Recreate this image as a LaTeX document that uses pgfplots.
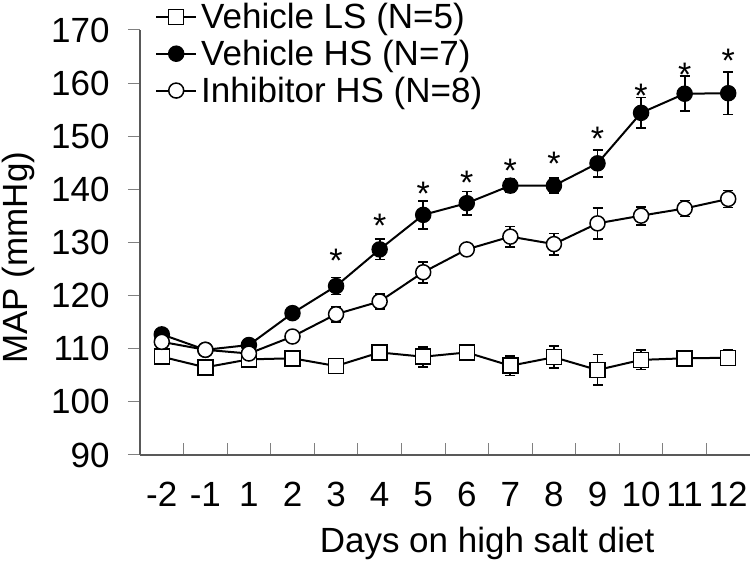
\documentclass[border=0pt]{standalone}
\usepackage{fontspec}
\setmainfont{Liberation Sans}
\usepackage{pgfplots}
\usepackage{pgfplotstable}
\pgfplotsset{compat=1.18}
\usetikzlibrary{calc}

\pgfplotstableread{
x y e
0.5 108.5 0.6
1.5 106.5 0.6
2.5 108.0 0.6
3.5 108.2 0.6
4.5 106.75 0.8
5.5 109.3 0.6
6.5 108.5 1.9
7.5 109.3 0.6
8.5 106.8 1.85
9.5 108.4 2.1
10.5 106.0 2.9
11.5 107.9 1.8
12.5 108.2 1.4
13.5 108.3 1.4
}\vls

\pgfplotstableread{
x y e
0.5 112.7 0.6
1.5 109.8 0.6
2.5 110.7 0.6
3.5 116.7 0.6
4.5 121.8 1.6
5.5 128.7 1.9
6.5 135.2 2.6
7.5 137.4 2.2
8.5 140.7 1.3
9.5 140.7 1.4
10.5 144.9 2.5
11.5 154.4 2.9
12.5 158.0 3.3
13.5 158.1 4.0
}\vhs

\pgfplotstableread{
x y e
0.5 111.3 0.6
1.5 109.8 0.6
2.5 109.1 0.6
3.5 112.3 0.6
4.5 116.5 1.4
5.5 118.9 1.35
6.5 124.4 1.95
7.5 128.7 1.0
8.5 131.1 1.9
9.5 129.7 2.0
10.5 133.6 2.9
11.5 135.05 1.7
12.5 136.4 1.5
13.5 138.2 1.6
}\ihs

\pgfplotstableread{
x y
4.5 126.6
5.5 133.2
6.5 139.2
7.5 141.3
8.5 143.5
9.5 144.9
10.5 149.5
11.5 157.7
12.5 161.6
13.5 164.2
}\stars

\begin{document}
\begin{tikzpicture}
\begin{axis}[
  name=ax,
  width=610bp, height=425bp, scale only axis,
  xmin=0, xmax=14, ymin=90, ymax=170,
  clip=false,
  axis lines=left,
  axis line style={-, black!65, line width=1.2bp},
  xtick={1,...,14},
  xticklabels={-2,-1,1,2,3,4,5,6,7,8,9,10,11,12},
  xticklabel style={xshift=-21.79bp, yshift=-24bp},
  yticklabel style={xshift=-15bp},
  ytick={90,100,...,170},
  xtick align=inside,
  ytick align=outside,
  major tick length=12bp,
  every tick/.style={black!50, line width=1bp},
  /pgf/number format/assume math mode=true,
  tick label style={font=\fontsize{35bp}{42bp}\selectfont},
  label style={font=\fontsize{35bp}{42bp}\selectfont},
  xlabel={Days on high salt diet},
  ylabel={MAP (mmHg)},
  xlabel style={at={(axis description cs:0.569,-0.2306)}, anchor=base},
  ylabel style={at={(axis description cs:-0.2,0.464)}, anchor=center},
  legend cell align=left,
  legend style={at={(axis description cs:0.0246,1.063)}, anchor=north west,
    draw=none, fill=none, inner sep=0pt, row sep=10bp,
    font=\fontsize{35bp}{42bp}\selectfont,
    nodes={inner ysep=0pt, inner xsep=4bp}},
  legend image code/.code={\draw[mark repeat=2,mark phase=2,#1] plot coordinates {(0bp,0bp) (20bp,0bp) (40bp,0bp)};},
]
\addplot[black, line width=2bp, mark=square*, mark size=7.5bp,
  mark options={fill=white, line width=1.5bp, solid},
  error bars/.cd, y dir=both, y explicit,
  error bar style={line width=1.8bp},
  error mark options={rotate=90, mark size=5bp, line width=1.8bp}]
  table[x=x, y=y, y error=e]{\vls};
\addlegendentry{Vehicle LS (N=5)}
\addplot[black, line width=2bp, mark=*, mark size=7.5bp,
  mark options={fill=black, line width=1.5bp, solid},
  error bars/.cd, y dir=both, y explicit,
  error bar style={line width=1.8bp},
  error mark options={rotate=90, mark size=5bp, line width=1.8bp}]
  table[x=x, y=y, y error=e]{\vhs};
\addlegendentry{Vehicle HS (N=7)}
\addplot[black, line width=2bp, mark=*, mark size=7.5bp,
  mark options={fill=white, line width=1.5bp, solid},
  error bars/.cd, y dir=both, y explicit,
  error bar style={line width=1.8bp},
  error mark options={rotate=90, mark size=5bp, line width=1.8bp}]
  table[x=x, y=y, y error=e]{\ihs};
\addlegendentry{Inhibitor HS (N=8)}
\addplot[draw=none, mark=none, forget plot,
  nodes near coords={*},
  every node near coord/.append style={anchor=center, inner sep=0pt,
    font=\fontsize{34bp}{40bp}\selectfont}]
  table[x=x, y=y]{\stars};
\end{axis}
\pgfresetboundingbox
\path[use as bounding box] ($(ax.south west)+(-140bp,-108bp)$) rectangle ($(ax.north east)+(0bp,30bp)$);
\end{tikzpicture}
\end{document}
